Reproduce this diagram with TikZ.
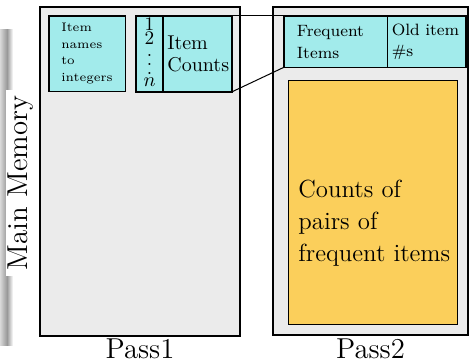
\documentclass[tikz,border=0pt]{standalone}
\definecolor{memgray}{HTML}{EBEBEB}
\definecolor{tablecyan}{HTML}{A2EBEB}
\definecolor{pairorange}{HTML}{FBCF5B}
% three stacked dots without the extra top kern of \vdots
\newcommand\stackdots{\vbox{\baselineskip=4.5pt\lineskiplimit=0pt\hbox{.}\hbox{.}\hbox{.}}}
\begin{document}
\begin{tikzpicture}[x=0.5pt,y=-0.5pt,
  passbox/.style={draw=black,line width=0.8pt,fill=memgray,inner sep=0pt},
  tablecell/.style={draw=black,line width=0.45pt,fill=tablecyan,inner sep=0pt},
  tableframe/.style={draw=black,line width=0.9pt},
  pairbox/.style={draw=black,line width=0.5pt,fill=pairorange,inner sep=0pt},
  passlabel/.style={font=\Large,inner sep=0pt},
  indexlabel/.style={font=\fontsize{9.6}{9.6}\selectfont,inner sep=0pt,anchor=base}]
\useasboundingbox (0,0) rectangle (470,363);
% soft shadow strip at the left edge
\shade[left color=gray!30,right color=gray!80] (0,30) rectangle (7,345);
\shade[left color=gray!80,right color=white] (7,30) rectangle (13,345);
\node[rotate=90,font=\Large,fill=white,inner xsep=3pt,inner ysep=1pt] (mem) at (21,183) {Main Memory};
% pass 1
\node[passbox,minimum width=100pt,minimum height=164.5pt] (pass1) at (140,171.5) {};
\node[passlabel] (p1lbl) at (140,349) {Pass1};
\node[tablecell,minimum width=38pt,minimum height=37.5pt,align=left,font=\fontsize{6.2}{8.2}\selectfont] (names) at (87,53.5) {Item\\names\\to\\integers};
\draw[tableframe] (names.north west) rectangle (names.south east);
\node[tablecell,minimum width=13pt,minimum height=37.5pt,anchor=north west] (cntL) at (136,16) {};
\node[tablecell,minimum width=34pt,minimum height=37.5pt,anchor=north west,align=left,font=\fontsize{10}{11}\selectfont,text width=30pt,inner xsep=2pt] (cntR) at (cntL.north east) {Item\\Counts};
\draw[tableframe] (cntL.north west) rectangle (cntR.south east);
\node[indexlabel] (one) at (149.5,31) {1};
\node[indexlabel] (two) at (149.5,44.5) {2};
\node[indexlabel] (dots) at (149.5,75) {\stackdots};
\node[indexlabel] (last) at (149.5,86.5) {$n$};
% pass 2
\node[passbox,minimum width=97.5pt,minimum height=164pt] (pass2) at (370.5,171) {};
\node[passlabel] (p2lbl) at (370.5,349) {Pass2};
\node[tablecell,minimum width=51.5pt,minimum height=25.3pt,anchor=north west,align=left,text width=38.5pt,inner xsep=6.5pt,font=\fontsize{8.2}{10.8}\selectfont] (freqL) at (283.5,16) {Frequent\\Items};
\node[tablecell,minimum width=39pt,minimum height=25.3pt,anchor=north west,align=left,font=\fontsize{8.2}{10.8}\selectfont,text width=35pt,inner xsep=2pt] (freqR) at (freqL.north east) {Old item\\\#s};
\draw[tableframe] (freqL.north west) rectangle (freqR.south east);
\node[pairbox,minimum width=84.5pt,minimum height=121.5pt] (pairs) at (372.5,202.5) {};
\node[anchor=west,align=left,font=\fontsize{12.4}{16}\selectfont,inner sep=0pt] (pairtxt) at (298,223) {Counts of\\pairs of\\frequent items};
% connectors between the count table and the frequent-items table
\draw[line width=0.5pt] (cntR.north east) -- (freqL.north west);
\draw[line width=0.5pt] (cntR.south east) -- (freqL.south west);
\end{tikzpicture}
\end{document}
